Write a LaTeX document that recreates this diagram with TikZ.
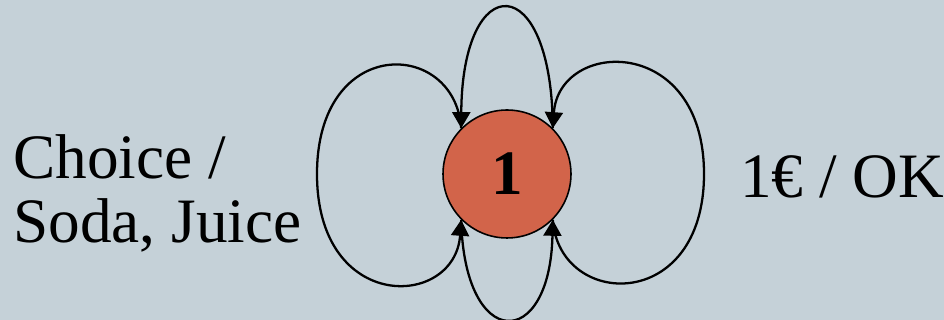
\documentclass[tikz,border=0pt]{standalone}
\usepackage{fontspec}
\setmainfont{Liberation Serif}
\usepackage{tikz}
\usetikzlibrary{arrows.meta, positioning}
\definecolor{bgblue}{HTML}{C5D1D8}
\definecolor{stateorange}{HTML}{D2644A}
\tikzset{
  state/.style={circle, minimum size=2.56cm, inner sep=0pt, draw=black, line width=0.9pt, fill=stateorange, font=\fontsize{36}{36}\selectfont\bfseries},
  txt/.style={align=left, inner sep=0pt, font=\fontsize{36}{36.4}\selectfont},
  arrow/.style={-{Triangle[length=0.32cm, width=0.36cm]}, draw=black, line width=1.3pt},
}
\begin{document}
\begin{tikzpicture}[x=0.02cm, y=0.02cm]

  % ---- Background ----
  \fill[bgblue] (0,0) rectangle (944,320);
  \useasboundingbox (0,0) rectangle (944,320);

  % ---- State ----
  \node (state) [state] at (507,146) {1};

  % ---- Labels ----
  \node (choice) [txt, anchor=west] at (13,127) {Choice /\\Soda, Juice};
  \node (pay) [txt, anchor=base west] at (740,122) {1€ / OK};

  % ---- Loops ----
  \draw [arrow] (state.135) .. controls (455,281) and (317,286) .. (317,146)
                            .. controls (317,6) and (455,11) .. (state.225);
  \draw [arrow] (state.225) .. controls (464,-32) and (550,-32) .. (state.315);
  \draw [arrow] (state.315) .. controls (559,11) and (704,6) .. (704,146)
                            .. controls (704,286) and (559,281) .. (state.45);
  \draw [arrow] (state.45) .. controls (552,352) and (462,352) .. (state.135);

\end{tikzpicture}
\end{document}
